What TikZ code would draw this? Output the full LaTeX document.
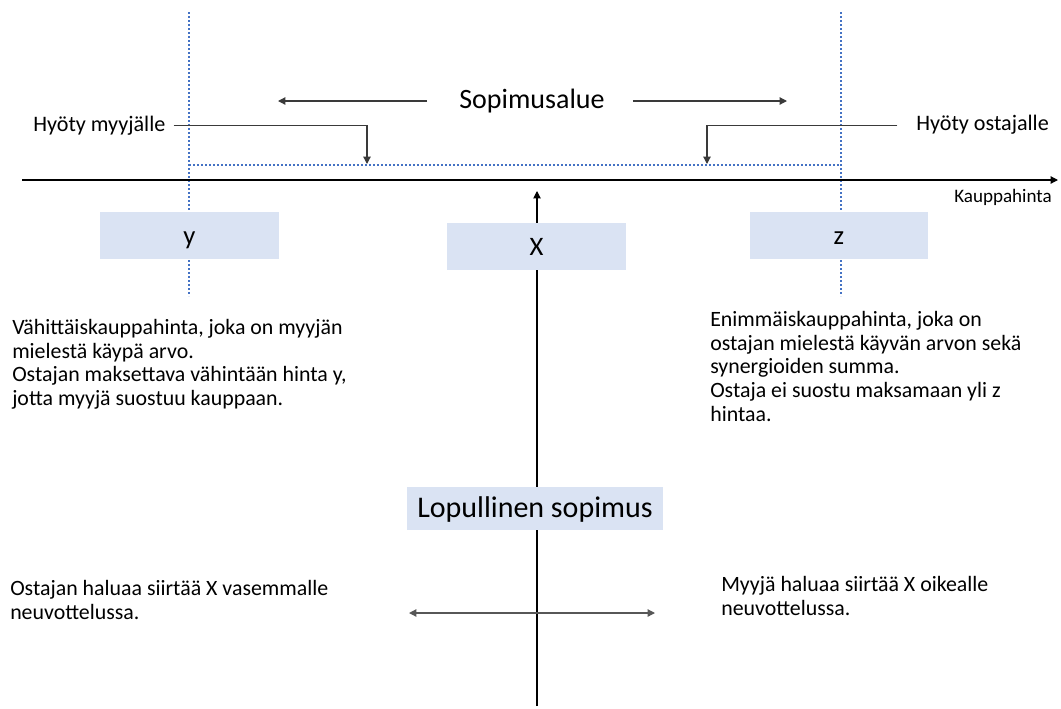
\documentclass[tikz,border=0pt]{standalone}
\usepackage{fontspec}
\setmainfont{Carlito}
\usetikzlibrary{arrows.meta}
\definecolor{boxblue}{HTML}{DAE3F3}
\definecolor{dotblue}{HTML}{4472C4}
\definecolor{linegray}{HTML}{3A3A3A}
\begin{document}
\begin{tikzpicture}[x=0.75pt,y=-0.75pt,
  tip/.style={-{Triangle[length=5.5pt,width=5.5pt]}},
  dtip/.style={{Triangle[length=5.5pt,width=5.5pt]}-{Triangle[length=5.5pt,width=5.5pt]}},
  guide/.style={dotblue,line width=0.8pt,dash pattern=on 1.8pt off 1.2pt},
  lead/.style={linegray,line width=0.9pt},
  valbox/.style={fill=boxblue,draw=none,minimum width=134pt,minimum height=35pt,inner sep=0pt,
    font=\fontsize{20}{24}\selectfont,text height=17pt,text depth=3pt},
  body/.style={inner sep=0pt,align=left,font=\fontsize{16.4}{17.8}\selectfont},
  label/.style={inner sep=0pt,font=\fontsize{16.6}{19}\selectfont}
]
\useasboundingbox (0,0) rectangle (1061,708);

% coordinates
\coordinate (gyTop) at (189,12);
\coordinate (gyBot) at (189,296);
\coordinate (gzTop) at (841,12);
\coordinate (gzBot) at (841,296);
\coordinate (axL) at (22,180);
\coordinate (axR) at (1058,180);
\coordinate (vBot) at (537,706);
\coordinate (vTop) at (537,191);
\coordinate (sopL) at (278,101);
\coordinate (sopR) at (787,101);
\coordinate (hmTip) at (367,164);
\coordinate (hoTip) at (707,164);
\coordinate (dL) at (409,613);
\coordinate (dR) at (655,613);

% guides
\draw[guide] (gyTop) -- (gyBot);
\draw[guide] (gzTop) -- (gzBot);
\draw[guide] (189,165) -- (841,165);

% axis
\draw[line width=0.9pt,tip] (axL) -- (axR);
% central vertical arrow
\draw[line width=0.8pt,tip] (vBot) -- (vTop);

% boxes
\node[valbox] (ybox) at (189.5,235.5) {y};
\node[valbox] (zbox) at (839,235.5) {z};
\node[valbox] (xbox) at (536.5,246.5) {X};
\node[valbox,minimum width=192pt,minimum height=32pt,font=\fontsize{22.5}{26}\selectfont] (lop) at (535,508.5) {Lopullinen sopimus};

% top labels
\node[inner sep=0pt,font=\fontsize{21}{24}\selectfont] (sop) at (532,101) {Sopimusalue};
\draw[lead,tip] ([xshift=-24pt]sop.west) -- (sopL);
\draw[lead,tip] ([xshift=21pt]sop.east) -- (sopR);

\node[label,anchor=west] (hm) at (33,126) {Hyöty myyjälle};
\node[label,anchor=west] (ho) at (916,125) {Hyöty ostajalle};
\draw[lead,tip] ([xshift=6pt,yshift=0.5pt]hm.east) -| (hmTip);
\draw[lead,tip] ([xshift=-14pt,yshift=-0.5pt]ho.west) -| (hoTip);

\node[inner sep=0pt,anchor=west,font=\fontsize{14.3}{17}\selectfont] (kaup) at (954,197) {Kauppahinta};

% text blocks
\node[body,anchor=north west] (ytext) at (12,319) {Vähittäiskauppahinta, joka on myyjän\\mielestä käypä arvo.\\Ostajan maksettava vähintään hinta y,\\jotta myyjä suostuu kauppaan.};
\node[body,anchor=north west] (ztext) at (710,311) {Enimmäiskauppahinta, joka on\\ostajan mielestä käyvän arvon sekä\\synergioiden summa.\\Ostaja ei suostu maksamaan yli z\\hintaa.};
\node[body,anchor=north west] (btext) at (10,580) {Ostajan haluaa siirtää X vasemmalle\\neuvottelussa.};
\node[body,anchor=north west] (stext) at (721,576) {Myyjä haluaa siirtää X oikealle\\neuvottelussa.};

% double arrow
\draw[lead,dtip,linegray!85] (dL) -- (dR);
\end{tikzpicture}
\end{document}
